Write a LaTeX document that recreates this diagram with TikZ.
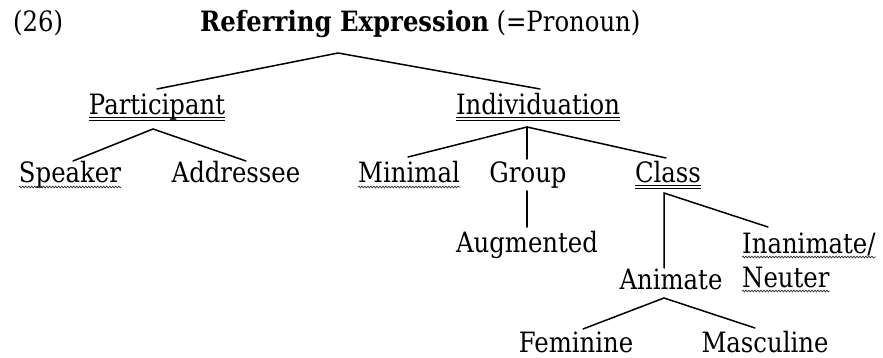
\documentclass[tikz,border=0pt]{standalone}
\usepackage{fontspec}
\setmainfont{DejaVu Serif}[FakeStretch=0.87]
\usetikzlibrary{calc,decorations.pathmorphing}
\begin{document}
\begin{tikzpicture}[x=1pt,y=-1pt,
  lbl/.style={inner sep=0pt,anchor=base,font=\fontsize{28}{31}\selectfont},
  edge/.style={line width=1.5pt,line cap=round},
  dbl/.style={line width=0.9pt},
  wavy/.style={gray!40!black,line width=0.7pt,decorate,decoration={snake,amplitude=0.9pt,segment length=3pt}}]
\path[use as bounding box] (0,0) rectangle (883,358);

% labels
\node[lbl,anchor=base west] (n26) at (13,32) {(26)};
\node[lbl,anchor=base west,font=\fontsize{28}{31}\selectfont\bfseries] (root) at (200,32) {Referring Expression};
\node[lbl,anchor=base west] (pron) at ($(root.base east)+(7,0)$) {(=Pronoun)};
\node[lbl] (part) at (157,115) {Participant};
\node[lbl] (indiv) at (538,115) {Individuation};
\node[lbl] (spk) at (70,183) {Speaker};
\node[lbl] (addr) at (236,183) {Addressee};
\node[lbl] (mini) at (409,183) {Minimal};
\node[lbl] (grp) at (528,183) {Group};
\node[lbl] (cls) at (668,183) {Class};
\node[lbl] (aug) at (527,252) {Augmented};
\node[lbl,anchor=base west] (inan) at (742,253) {Inanimate/};
\node[lbl,anchor=base west] (neut) at (742,287) {Neuter};
\node[lbl] (anim) at (671,289) {Animate};
\node[lbl] (fem) at (576,352) {Feminine};
\node[lbl] (masc) at (765,352) {Masculine};

% double underlines
\foreach \n in {part,indiv,cls}{
  \draw[dbl] ($(\n.base west)+(0,2.5)$) -- ($(\n.base east)+(0,2.5)$);
  \draw[dbl] ($(\n.base west)+(0,5)$) -- ($(\n.base east)+(0,5)$);
}
% wavy underlines
\foreach \n in {spk,mini,inan,neut}{
  \draw[wavy] ($(\n.base west)+(0,4)$) -- ($(\n.base east)+(0,4)$);
}

% connectors
\draw[edge] ($(part.base)+(0,-26)$) -- ($(root.base west)+(138,21)$) -- ($(indiv.base)+(2,-26)$);
\draw[edge] ($(spk.base)+(3,-22)$) -- ($(part.base)+(-4,14)$) -- ($(addr.base)+(10,-22)$);
\draw[edge] ($(mini.base)+(-1,-26)$) -- ($(indiv.base)+(-11,12)$) -- ($(cls.base)+(-2,-25)$);
\draw[edge] ($(indiv.base)+(-11,12)$) -- ($(grp.base)+(-1,-24)$);
\draw[edge] ($(grp.base)+(-1,8)$) -- ($(aug.base)+(0,-25)$);
\draw[edge] ($(anim.base)+(-7,-21)$) -- ($(cls.base)+(-4,10)$) -- ($(inan.base west)+(26,-26)$);
\draw[edge] ($(fem.base)+(7,-23)$) -- ($(anim.base)+(-7,9)$) -- ($(masc.base)+(-10,-24)$);
\end{tikzpicture}
\end{document}
